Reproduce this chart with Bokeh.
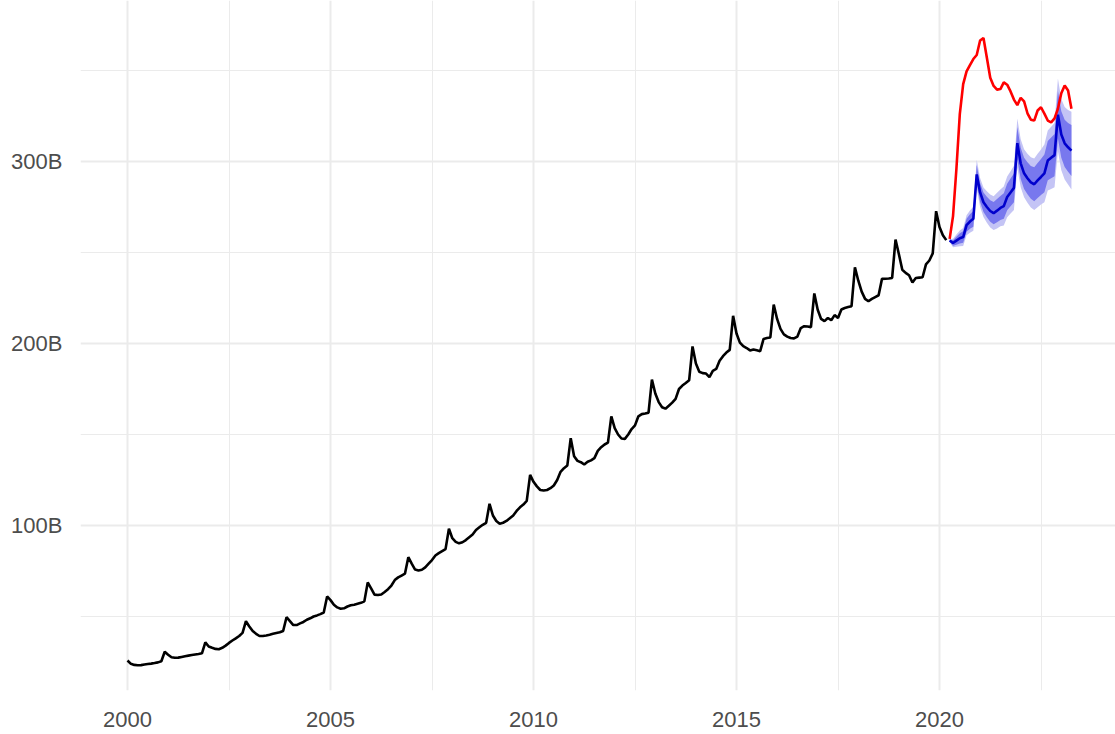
from bokeh.plotting import figure
from bokeh.models import FixedTicker, Range1d
from bokeh.embed import file_html
from bokeh.resources import INLINE

# ---- data (billions), monthly ----
hist_start = (2000, 1)   # Jan 2000 .. Mar 2020
hist_values = [
    25.8, 24.0, 23.4, 23.2, 23.3, 23.6, 23.9, 24.1, 24.4, 24.8, 25.4, 30.6,
    29.0, 27.6, 27.3, 27.4, 27.8, 28.2, 28.5, 28.8, 29.1, 29.4, 29.8, 35.8,
    33.5, 32.8, 32.2, 32.0, 32.8, 34.0, 35.5, 36.8, 38.0, 39.3, 41.0, 47.4,
    44.5, 42.0, 40.5, 39.3, 39.3, 39.6, 40.0, 40.5, 40.9, 41.3, 42.0, 49.6,
    47.5, 45.3, 45.3, 46.2, 47.0, 48.2, 49.0, 50.0, 50.6, 51.3, 52.2, 61.0,
    59.0, 56.5, 55.0, 54.3, 54.5, 55.5, 56.2, 56.5, 57.0, 57.5, 58.3, 68.7,
    65.5, 62.0, 61.8, 62.1, 63.5, 65.0, 67.0, 70.0, 71.5, 72.5, 73.5, 82.6,
    79.0, 75.8, 75.3, 75.7, 77.0, 79.0, 81.0, 83.5, 84.8, 85.9, 87.0, 98.2,
    93.0, 91.0, 90.2, 90.8, 92.0, 93.5, 95.0, 97.5, 99.0, 100.4, 101.5, 111.9,
    105.5, 102.5, 101.0, 101.5, 102.5, 104.0, 105.5, 108.0, 110.0, 111.5, 113.5, 127.8,
    124.0, 121.5, 119.5, 119.2, 119.5, 120.5, 122.0, 125.0, 129.5, 131.5, 133.0, 148.0,
    138.0, 135.5, 134.8, 133.5, 135.0, 135.8, 137.0, 141.0, 143.0, 144.5, 145.5, 159.9,
    153.5, 150.0, 147.8, 147.6, 150.0, 153.0, 155.0, 160.0, 161.2, 161.5, 162.0, 180.2,
    172.5, 167.8, 165.0, 164.2, 165.8, 167.5, 169.6, 175.0, 176.9, 178.3, 179.8, 198.4,
    189.0, 184.5, 183.7, 183.5, 181.5, 185.0, 186.0, 190.5, 193.0, 195.0, 196.5, 215.2,
    205.5, 200.5, 198.5, 197.5, 196.2, 196.7, 196.3, 195.8, 202.5, 203.0, 203.3, 221.4,
    213.5, 208.0, 205.0, 203.8, 203.0, 202.8, 203.8, 208.5, 209.5, 209.3, 209.0, 227.5,
    218.5, 213.5, 212.3, 214.0, 212.8, 215.6, 214.0, 218.7, 219.5, 220.0, 220.5, 241.9,
    234.5, 228.5, 224.5, 223.2, 224.5, 225.5, 226.5, 235.5, 235.6, 235.7, 236.0, 257.1,
    249.0, 240.5, 238.8, 237.5, 233.5, 236.0, 236.2, 236.4, 243.5, 245.6, 249.5, 272.7,
    264.0, 259.5, 256.8,
]

fc_start = (2020, 4)     # Apr 2020 .. Apr 2023
fc_mean = [
    256.6, 255.2, 256.5, 257.8, 258.5, 265.0, 267.0, 268.5, 292.9,
    283.0, 277.6, 275.0, 272.8, 271.6, 273.0, 274.5, 275.5, 280.5, 283.0, 285.5, 310.1,
    299.0, 293.5, 290.8, 288.5, 287.5, 289.6, 291.5, 293.5, 300.5, 302.0, 303.5, 325.7,
    314.8, 310.0, 307.8, 306.0,
]
fc_half80 = [
    0.5, 1.5, 2.2, 2.8, 3.2, 3.6, 4.0, 4.3, 5.2,
    5.2, 5.3, 5.6, 5.9, 6.1, 6.4, 6.6, 7.0, 7.3, 7.6, 7.9, 8.8,
    8.6, 8.6, 8.8, 9.0, 9.3, 9.6, 9.9, 10.4, 10.8, 11.2, 11.6, 13.0,
    12.8, 13.0, 13.4, 14.0,
]
fc_half95 = [
    0.8, 2.3, 3.4, 4.3, 4.9, 5.5, 6.1, 6.6, 8.0,
    8.0, 8.1, 8.6, 9.0, 9.3, 9.8, 10.1, 10.7, 11.2, 11.6, 12.1, 13.5,
    13.2, 13.2, 13.5, 13.8, 14.2, 14.7, 15.1, 15.9, 16.5, 17.1, 17.7, 19.9,
    19.6, 19.9, 20.5, 21.4,
]

actual_start = (2020, 4)  # Apr 2020 .. Apr 2023
actual_values = [
    257.5, 270.0, 296.0, 326.0, 342.5, 349.5, 353.0, 356.3, 358.5,
    366.5, 367.9, 357.0, 346.0, 341.5, 339.5, 339.8, 343.5, 342.2, 338.5, 334.0, 331.0,
    335.0, 333.0, 326.5, 323.0, 322.5, 328.0, 329.8, 326.3, 322.5, 321.5, 323.7, 329.0,
    337.5, 341.8, 339.0, 329.0,
]

x_ticks = [2000, 2005, 2010, 2015, 2020]
x_minor = [2002.5, 2007.5, 2012.5, 2017.5, 2022.5]
y_ticks = [100, 200, 300]
y_minor = [50, 150, 250, 350]
y_labels = {100: "100B", 200: "200B", 300: "300B"}


def month_axis(start, n):
    y, m = start
    return [y + (m - 1 + i) / 12.0 for i in range(n)]


hx = month_axis(hist_start, len(hist_values))
fx = month_axis(fc_start, len(fc_mean))
ax = month_axis(actual_start, len(actual_values))

lo80 = [m - h for m, h in zip(fc_mean, fc_half80)]
hi80 = [m + h for m, h in zip(fc_mean, fc_half80)]
lo95 = [m - h for m, h in zip(fc_mean, fc_half95)]
hi95 = [m + h for m, h in zip(fc_mean, fc_half95)]

p = figure(width=1115, height=734, output_backend="svg", toolbar_location=None,
           x_range=Range1d(1998.842, 2024.335), y_range=Range1d(9.34, 388.46),
           min_border_left=80, min_border_right=0, min_border_top=0, min_border_bottom=44)
p.outline_line_color = None
p.background_fill_color = "white"
p.border_fill_color = "white"

p.xaxis.ticker = FixedTicker(ticks=x_ticks, minor_ticks=x_minor)
p.yaxis.ticker = FixedTicker(ticks=y_ticks, minor_ticks=y_minor)
p.xaxis.major_label_overrides = {t: str(t) for t in x_ticks}
p.yaxis.major_label_overrides = y_labels

for a in (p.xaxis[0], p.yaxis[0]):
    a.axis_line_color = None
    a.major_tick_line_color = None
    a.minor_tick_line_color = None
    a.major_tick_out = 0
    a.major_tick_in = 0
    a.major_label_text_font = "Liberation Sans"
    a.major_label_text_font_size = "22px"
    a.major_label_text_color = "#4D4D4D"
p.yaxis.major_label_standoff = 14
p.xaxis.major_label_standoff = 17

for g in (p.xgrid[0], p.ygrid[0]):
    g.grid_line_color = "#EBEBEB"
    g.grid_line_width = 2
    g.minor_grid_line_color = "#EBEBEB"
    g.minor_grid_line_width = 1

p.varea(x=fx, y1=lo95, y2=hi95, fill_color="#C4C4F5")
p.varea(x=fx, y1=lo80, y2=hi80, fill_color="#7878EE")
p.line(hx, hist_values, line_color="black", line_width=2.6)
p.line(fx, fc_mean, line_color="#0000CC", line_width=2.6)
p.line(ax, actual_values, line_color="#FF0000", line_width=2.6)

open("out.html", "w").write(file_html(p, INLINE))
